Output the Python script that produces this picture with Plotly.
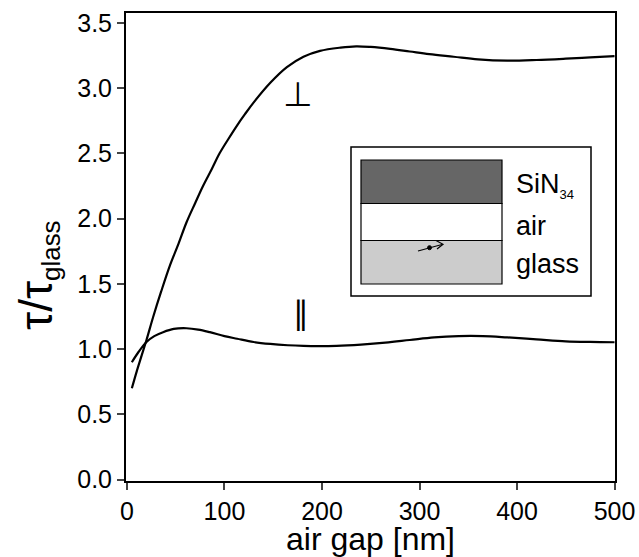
import plotly.graph_objects as go

# Perpendicular dipole orientation
perp_x = [5, 10, 15, 20, 27, 35, 44, 53, 61, 70, 78, 87, 95, 104, 113, 121, 130, 147, 164,
          181, 198, 219, 235, 250, 270, 290, 310, 335, 360, 390, 420, 450, 475, 500]
perp_y = [0.70, 0.83, 0.95, 1.07, 1.25, 1.44, 1.64, 1.81, 1.97, 2.12, 2.25, 2.38, 2.50, 2.61,
          2.715, 2.80, 2.89, 3.04, 3.16, 3.24, 3.285, 3.31, 3.32, 3.315, 3.30, 3.28, 3.26,
          3.24, 3.22, 3.21, 3.215, 3.225, 3.235, 3.245]

# Parallel dipole orientation
par_x = [5, 12, 20, 28, 37, 48, 61, 73, 85, 100, 113, 130, 147, 165, 181, 195, 215, 240,
         265, 290, 315, 340, 365, 390, 420, 450, 475, 500]
par_y = [0.90, 0.98, 1.055, 1.10, 1.13, 1.155, 1.16, 1.15, 1.13, 1.10, 1.08, 1.055, 1.04,
         1.03, 1.025, 1.023, 1.025, 1.035, 1.05, 1.07, 1.09, 1.10, 1.10, 1.09, 1.075, 1.06,
         1.055, 1.053]

x_ticks = [0, 100, 200, 300, 400, 500]
y_ticks = [0.0, 0.5, 1.0, 1.5, 2.0, 2.5, 3.0, 3.5]
y_tick_labels = ["0.0", "0.5", "1.0", "1.5", "2.0", "2.5", "3.0", "3.5"]

layers = ["SiN<sub><span style='font-size:13px'>34</span></sub>", "air", "glass"]
layer_colors = ["#666666", "#ffffff", "#cccccc"]

FONT = "Liberation Sans, Arial, Helvetica, sans-serif"

fig = go.Figure()
fig.add_trace(go.Scatter(x=perp_x, y=perp_y, mode="lines", line=dict(color="black", width=2.2, shape="spline"),
                         showlegend=False, hoverinfo="skip"))
fig.add_trace(go.Scatter(x=par_x, y=par_y, mode="lines", line=dict(color="black", width=2.2, shape="spline"),
                         showlegend=False, hoverinfo="skip"))

# body margin is removed in post_script, so figure coordinates equal page coordinates
W, H = 639, 557
L, R, T, B = 126, 615, 13, 481


def px(x):
    return (x - L) / (R - L)


def py(y):
    return (B - y) / (B - T)


shapes = []
# inset outer box
shapes.append(dict(type="rect", xref="paper", yref="paper", x0=px(351), x1=px(591), y0=py(296), y1=py(147),
                   line=dict(color="black", width=1.5), fillcolor="white", layer="above"))
# layers
bounds = [(160, 203.5), (203.5, 240.5), (240.5, 284)]
for (y0, y1), c in zip(bounds, layer_colors):
    shapes.append(dict(type="rect", xref="paper", yref="paper", x0=px(361), x1=px(502), y0=py(y1), y1=py(y0),
                       line=dict(color="black", width=1.2), fillcolor=c, layer="above"))
# dipole line
shapes.append(dict(type="line", xref="paper", yref="paper", x0=px(418), y0=py(251), x1=px(442), y1=py(244.5),
                   line=dict(color="black", width=1.2), layer="above"))
shapes.append(dict(type="circle", xref="paper", yref="paper", x0=px(427.5), x1=px(431.5), y0=py(249.7), y1=py(245.7),
                   line=dict(color="black", width=1), fillcolor="black", layer="above"))
# open arrowhead
shapes.append(dict(type="path", xref="paper", yref="paper",
                   path=f"M {px(436)} {py(240.5)} L {px(443)} {py(244.3)} L {px(437)} {py(249)}",
                   line=dict(color="black", width=1.2), layer="above"))
fig.update_layout(shapes=shapes)

annotations = []
label_y = [185, 226, 264]
for txt, yy in zip(layers, label_y):
    annotations.append(dict(text=txt, xref="paper", yref="paper", x=px(514), y=py(yy), xanchor="left",
                            yanchor="middle", showarrow=False, font=dict(family=FONT, size=27, color="black")))
annotations.append(dict(text="⊥", xref="paper", yref="paper", x=px(298), y=py(94), xanchor="center",
                        yanchor="middle", showarrow=False, font=dict(family="DejaVu Sans", size=34, color="black")))
annotations.append(dict(text="∥", xref="paper", yref="paper", x=px(300.5), y=py(313), xanchor="center",
                        yanchor="middle", showarrow=False, font=dict(family="DejaVu Sans", size=32, color="black")))
# y-axis title
annotations.append(dict(text="<span style='font-size:46px'>τ/τ</span><sub>glass</sub>", xref="paper", yref="paper",
                        x=px(37), y=py(275), xanchor="center", yanchor="middle", textangle=-90, showarrow=False,
                        font=dict(family=FONT, size=37, color="black")))
# x-axis title
annotations.append(dict(text="air gap [nm]", xref="paper", yref="paper",
                        x=px(370), y=py(539), xanchor="center", yanchor="middle", showarrow=False,
                        font=dict(family=FONT, size=32, color="black")))
fig.update_layout(annotations=annotations)

fig.update_layout(
    width=W, height=H,
    margin=dict(l=L, r=W - R, t=T, b=H - B, pad=0, autoexpand=False),
    paper_bgcolor="white", plot_bgcolor="white",
    font=dict(family=FONT, color="black", size=25),
    xaxis=dict(range=[-1, 500.5], tickvals=x_ticks, ticks="outside", ticklen=7, tickwidth=1.5,
               showline=True, linecolor="black", linewidth=2, mirror=True, showgrid=False, zeroline=False,
               tickfont=dict(size=25), automargin=False),
    yaxis=dict(range=[-0.01, 3.575], tickvals=y_ticks, ticktext=y_tick_labels, ticks="outside", ticklen=7,
               tickwidth=1.5, showline=True, linecolor="black", linewidth=2, mirror=True, showgrid=False,
               zeroline=False, tickfont=dict(size=25), automargin=False),
)

fig.write_html(
    "out.html",
    config={"displayModeBar": False},
    post_script=("document.documentElement.style.margin='0';document.body.style.margin='0';"
                 "document.documentElement.style.overflow='hidden';document.body.style.overflow='hidden';"),
)
